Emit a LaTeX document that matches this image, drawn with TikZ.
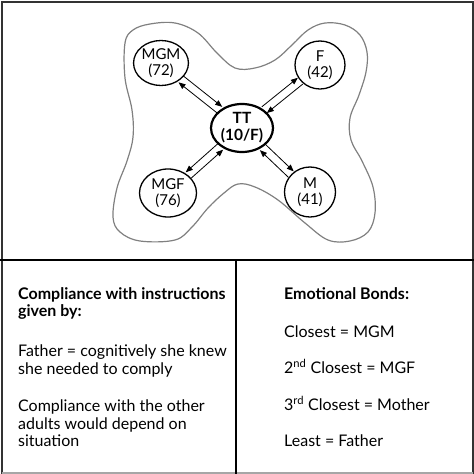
\documentclass[tikz,border=0pt]{standalone}
\usepackage{fontspec}
\setmainfont{Lato}
\usetikzlibrary{shapes.geometric,arrows.meta}
\tikzset{
  person/.style={ellipse,draw=black,line width=1.3pt,inner sep=0pt,
    align=center,font=\fontsize{15}{16.5}\selectfont},
  child/.style={person,line width=2.2pt,font=\bfseries\fontsize{15.5}{17}\selectfont},
  arr/.style={line width=0.8pt,-{Triangle[length=7pt,width=5.5pt]}},
  panel/.style={anchor=north west,align=left,inner sep=0pt,
    font=\fontsize{16}{17.8}\selectfont}
}
\begin{document}
\begin{tikzpicture}[x=1pt,y=-1pt]
\useasboundingbox (0,0) rectangle (474,474);
% frame
\draw [black!80,line width=2pt] (1.5,2) rectangle (472.5,472.5);
\draw [black!35,line width=2pt] (1.5,472.5) -- (472.5,472.5);
\draw [black,line width=2.5pt] (0,260) -- (474,260);
\draw [black,line width=2.5pt] (236,260) -- (236,474);
% family boundary
\draw [black!50,line width=1.2pt] plot [smooth cycle,tension=0.6] coordinates {
  (125,43) (133,30) (150,24) (175,23) (198,33) (217,53) (235,68) (255,68)
  (275,60) (292,45) (308,30) (325,23) (345,25) (360,35) (367,52) (366,72)
  (359,95) (350,118) (351,140) (362,161) (373,187) (375,213) (368,232)
  (350,241) (328,240) (305,223) (278,200) (255,187) (238,184) (224,193)
  (208,208) (192,227) (175,240) (140,241) (120,232) (113,217) (117,188)
  (127,161) (133,137) (132,110) (125,78)};
% people
\node [child,minimum width=62pt,minimum height=48pt] (TT) at (242,128) {TT\\(10/F)};
\node [person,minimum width=52pt,minimum height=45pt] (MGM) at (161,63) {MGM\\(72)};
\node [person,minimum width=50pt,minimum height=48pt] (F) at (320,65) {F\\(42)};
\node [person,minimum width=57pt,minimum height=48pt] (MGF) at (168,193) {MGF\\(76)};
\node [person,minimum width=51pt,minimum height=50pt] (M) at (310,192) {M\\(41)};
% double arrows
\foreach \n/\a/\b/\s in {MGM/141/-39/90, F/39/219/90, MGF/221/41/-90, M/317/137/90}{
  \draw [arr] ([shift={(\a+\s:4pt)}]TT.\a) -- ([shift={(\a+\s:4pt)}]\n.\b);
  \draw [arr] ([shift={(\a-\s:4pt)}]\n.\b) -- ([shift={(\a-\s:4pt)}]TT.\a);
}
% panels
\node [panel] (comply) at (18,287) {\textbf{Compliance with instructions}\\
  \textbf{given by:}\\[21.5pt]
  Father = cognitively she knew\\
  she needed to comply\\[19.5pt]
  Compliance with the other\\
  adults would depend on\\
  situation};
\node [panel] (bonds) at (284,287) {\textbf{Emotional Bonds:}\\[20.5pt]
  Closest = MGM\\[18.5pt]
  2\textsuperscript{nd} Closest = MGF\\[19pt]
  3\textsuperscript{rd} Closest = Mother\\[18.5pt]
  Least = Father};
\end{tikzpicture}
\end{document}
